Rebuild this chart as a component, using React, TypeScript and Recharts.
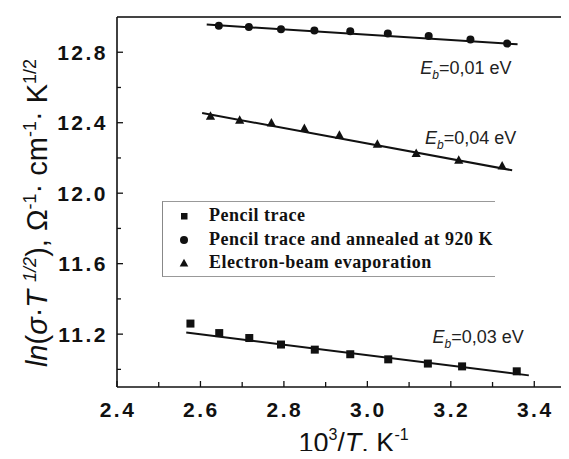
import React from "react";
import {
  ComposedChart,
  Scatter,
  Line,
  XAxis,
  YAxis,
  Legend,
  ReferenceDot,
  ReferenceLine,
} from "recharts";

// measured points, 10^3/T vs ln(sigma*T^1/2)
const pencilX = [2.576, 2.645, 2.717, 2.793, 2.874, 2.959, 3.05, 3.145, 3.227, 3.358];
const pencilY = [11.26, 11.206, 11.178, 11.141, 11.112, 11.086, 11.057, 11.033, 11.017, 10.989];

const annealedX = [2.644, 2.716, 2.793, 2.873, 2.959, 3.049, 3.147, 3.247, 3.335];
const annealedY = [12.95, 12.943, 12.931, 12.924, 12.919, 12.906, 12.892, 12.872, 12.849];

const beamX = [2.624, 2.694, 2.77, 2.849, 2.933, 3.024, 3.117, 3.219, 3.323];
const beamY = [12.436, 12.414, 12.398, 12.367, 12.329, 12.278, 12.225, 12.187, 12.154];

// linear fits (end points)
const pencilFitX = [2.566, 3.387];
const pencilFitY = [11.209, 10.966];
const annealedFitX = [2.615, 3.36];
const annealedFitY = [12.957, 12.845];
const beamFitX = [2.604, 3.347];
const beamFitY = [12.455, 12.13];

const seriesNames = [
  "Pencil trace",
  "Pencil trace and annealed at 920 K",
  "Electron-beam evaporation",
];

// activation energy labels
const energyLabels = ["0,01", "0,04", "0,03"];
const energyX = [3.127, 3.138, 3.156];
const energyY = [12.678, 12.28, 11.148];

const xTicks = [2.4, 2.5, 2.6, 2.7, 2.8, 2.9, 3.0, 3.1, 3.2, 3.3, 3.4];
const yTicks = [11.0, 11.2, 11.4, 11.6, 11.8, 12.0, 12.2, 12.4, 12.6, 12.8];

const pts = (xs: number[], ys: number[]) => xs.map((x, i) => ({ x, y: ys[i] }));

const SANS = "'Liberation Sans', Arial, sans-serif";
const SERIF = "'Liberation Serif', 'Times New Roman', serif";

function XTick({ x, y, payload }: any) {
  const v = payload.value;
  const major = Math.round(v * 10) % 2 === 0;
  return (
    <g>
      <line x1={x} x2={x} y1={y} y2={y - (major ? 6 : 5)} stroke="#111" strokeWidth={1.3} />
      {major && (
        <text x={x + 1} y={y + 30} textAnchor="middle" fontFamily={SANS} fontWeight="bold" fontSize={21} letterSpacing={2.5} fill="#111">
          {v.toFixed(1)}
        </text>
      )}
    </g>
  );
}

function YTick({ x, y, payload }: any) {
  const v = payload.value;
  const major = Math.round(v * 10) % 4 === 0;
  return (
    <g>
      <line x1={x} x2={x + (major ? 6 : 4)} y1={y} y2={y} stroke="#111" strokeWidth={1.3} />
      {major && (
        <text x={x - 9} y={y + 7.5} textAnchor="end" fontFamily={SANS} fontWeight="bold" fontSize={21} letterSpacing={2.5} fill="#111">
          {v.toFixed(1)}
        </text>
      )}
    </g>
  );
}

function YLabel({ viewBox }: any) {
  const cx = viewBox.x + 47;
  const cy = viewBox.y + viewBox.height / 2 + 11;
  return (
    <text x={cx} y={cy} transform={`rotate(-90, ${cx}, ${cy})`} textAnchor="middle" fontFamily={SANS} fontSize={29} fill="#111">
      <tspan fontStyle="italic">ln</tspan>
      <tspan>(</tspan>
      <tspan fontStyle="italic">σ</tspan>
      <tspan>·</tspan>
      <tspan fontStyle="italic">T </tspan>
      <tspan dy={-11} fontSize={18} fontStyle="italic">1/2</tspan>
      <tspan dy={11}>), Ω</tspan>
      <tspan dy={-11} fontSize={18}>-1</tspan>
      <tspan dy={11}>· cm</tspan>
      <tspan dy={-11} fontSize={18}>-1</tspan>
      <tspan dy={11}>· K</tspan>
      <tspan dy={-11} fontSize={18}>1/2</tspan>
    </text>
  );
}

function XLabel({ viewBox }: any) {
  const cx = viewBox.x + viewBox.width / 2 + 7;
  const by = viewBox.y + 65;
  return (
    <text x={cx} y={by} textAnchor="middle" fontFamily={SANS} fontSize={27} fill="#111">
      <tspan>10</tspan>
      <tspan dy={-12} fontSize={16}>3</tspan>
      <tspan dy={12}>/</tspan>
      <tspan fontStyle="italic">T</tspan>
      <tspan>, K</tspan>
      <tspan dy={-12} fontSize={16}>-1</tspan>
    </text>
  );
}

function energyLabel(value: string) {
  return ({ viewBox }: any) => (
    <text x={viewBox.x} y={viewBox.y} fontFamily={SANS} fontSize={18} fill="#222">
      <tspan fontStyle="italic">E</tspan>
      <tspan dy={5} fontSize={12} fontStyle="italic">b</tspan>
      <tspan dy={-5}>={value} eV</tspan>
    </text>
  );
}

const Square = ({ cx, cy }: any) => <rect x={cx - 4} y={cy - 4} width={8} height={8} fill="#111" />;
const Dot = ({ cx, cy }: any) => <circle cx={cx} cy={cy} r={4} fill="#111" />;
const Tri = ({ cx, cy }: any) => (
  <path d={`M${cx},${cy - 5}L${cx + 4.6},${cy + 3.5}L${cx - 4.6},${cy + 3.5}Z`} fill="#111" />
);

function LegendIcon({ type }: { type: string }) {
  return (
    <svg width={10} height={10} style={{ position: "absolute", left: 16, top: 7 }}>
      {type === "square" && <rect x={2} y={2} width={6.5} height={6.5} fill="#111" />}
      {type === "circle" && <circle cx={5} cy={5} r={4} fill="#111" />}
      {type === "triangle" && <path d="M5,0.8L9.3,8.6L0.7,8.6Z" fill="#111" />}
    </svg>
  );
}

function LegendBox({ payload }: any) {
  const items = (payload || [])
    .filter((e: any) => e.type !== "none")
    .sort((a: any, b: any) => seriesNames.indexOf(a.value) - seriesNames.indexOf(b.value));
  return (
    <div
      style={{
        width: "100%",
        height: "100%",
        boxSizing: "border-box",
        borderLeft: "1px solid #888",
        borderTop: "1px solid #999",
        borderBottom: "1px solid #999",
        paddingTop: 2,
      }}
    >
      {items.map((e: any) => (
        <div
          key={e.value}
          style={{
            position: "relative",
            height: 23.5,
            lineHeight: "23.5px",
            paddingLeft: 46,
            fontFamily: SERIF,
            fontWeight: "bold",
            fontSize: 18,
            letterSpacing: 0.5,
            color: "#111",
            whiteSpace: "nowrap",
          }}
        >
          <LegendIcon type={e.type} />
          {e.value}
        </div>
      ))}
    </div>
  );
}

export default function App() {
  return (
    <div style={{ margin: -8, width: 569, height: 459, overflow: "hidden", background: "#fff", position: "relative" }}>
      <ComposedChart width={576} height={459} margin={{ top: 17, right: 0, bottom: 0, left: 0 }}>
        <XAxis
          dataKey="x"
          type="number"
          domain={[2.4, 3.5]}
          ticks={xTicks}
          interval={0}
          allowDataOverflow
          height={72}
          tickSize={0}
          tickMargin={0}
          tickLine={false}
          tick={<XTick />}
          axisLine={{ stroke: "#111", strokeWidth: 1.6 }}
          label={<XLabel />}
        />
        <YAxis
          dataKey="y"
          type="number"
          domain={[10.9, 13.0]}
          ticks={yTicks}
          interval={0}
          allowDataOverflow
          width={117}
          tickSize={0}
          tickMargin={0}
          tickLine={false}
          tick={<YTick />}
          axisLine={{ stroke: "#111", strokeWidth: 1.6 }}
          label={<YLabel />}
        />
        <ReferenceLine y={13.0} stroke="#444" strokeWidth={2} />

        <Line data={pts(pencilFitX, pencilFitY)} dataKey="y" stroke="#111" strokeWidth={2} dot={false} legendType="none" isAnimationActive={false} />
        <Line data={pts(annealedFitX, annealedFitY)} dataKey="y" stroke="#111" strokeWidth={2} dot={false} legendType="none" isAnimationActive={false} />
        <Line data={pts(beamFitX, beamFitY)} dataKey="y" stroke="#111" strokeWidth={2} dot={false} legendType="none" isAnimationActive={false} />

        <Scatter name={seriesNames[0]} data={pts(pencilX, pencilY)} dataKey="y" fill="#111" shape={<Square />} legendType="square" isAnimationActive={false} />
        <Scatter name={seriesNames[1]} data={pts(annealedX, annealedY)} dataKey="y" fill="#111" shape={<Dot />} legendType="circle" isAnimationActive={false} />
        <Scatter name={seriesNames[2]} data={pts(beamX, beamY)} dataKey="y" fill="#111" shape={<Tri />} legendType="triangle" isAnimationActive={false} />

        {energyLabels.map((v, i) => (
          <ReferenceDot key={v} x={energyX[i]} y={energyY[i]} r={0} fill="none" stroke="none" label={energyLabel(v)} />
        ))}

        <Legend
          layout="horizontal"
          verticalAlign="middle"
          align="center"
          content={<LegendBox />}
          wrapperStyle={{ position: "absolute", left: 162, top: 201, width: 333, height: 76 }}
        />
      </ComposedChart>
    </div>
  );
}
